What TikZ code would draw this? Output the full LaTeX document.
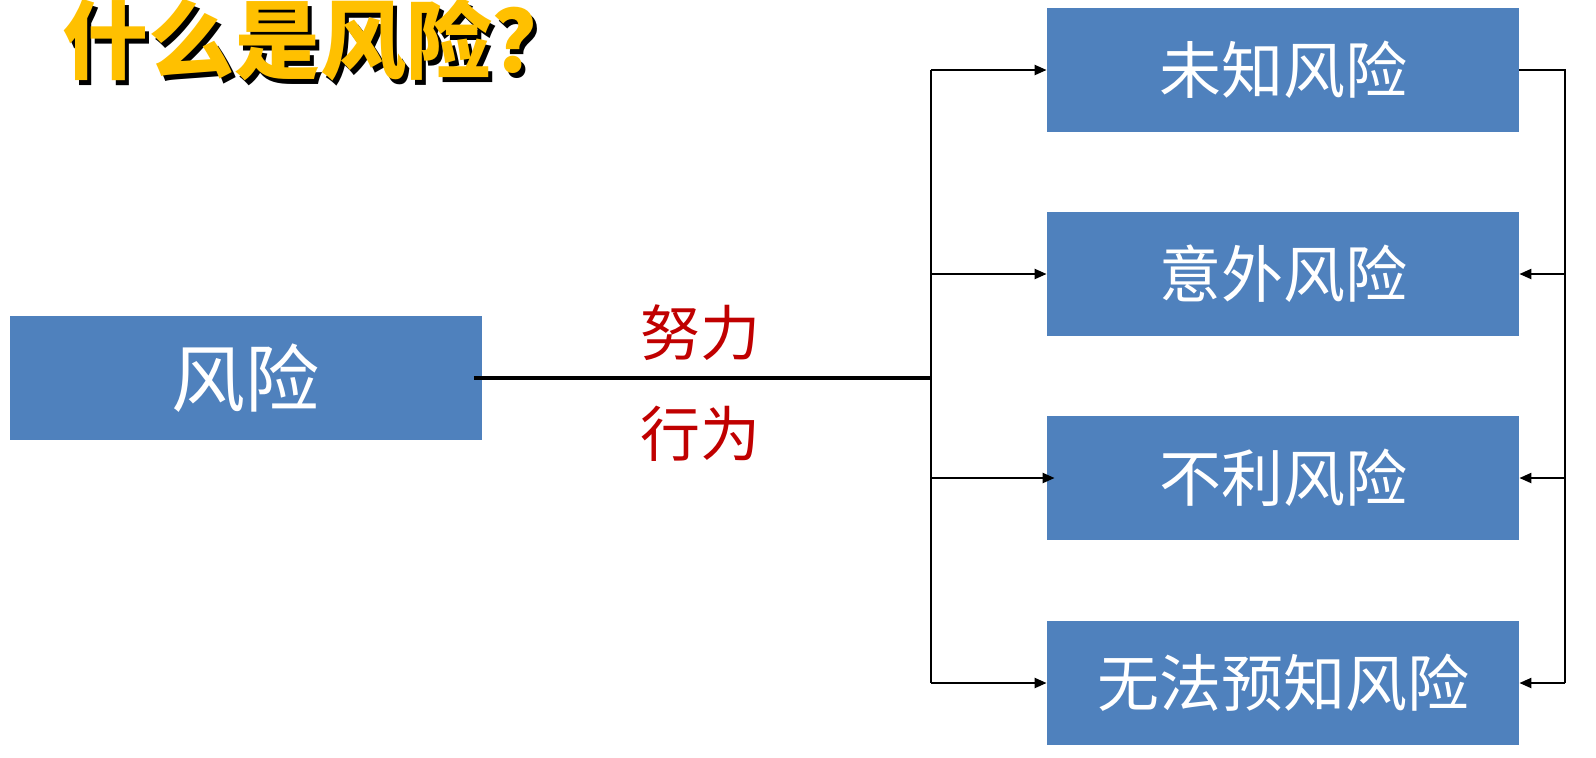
\documentclass[tikz,border=0pt]{standalone}
\usepackage{fontspec}
\setmainfont{Noto Sans CJK SC}
\usetikzlibrary{arrows.meta}
\definecolor{boxblue}{HTML}{4F81BD}
\definecolor{titleyellow}{HTML}{FFC000}
\definecolor{labelred}{HTML}{C00000}
\newcommand{\shadowtext}[1]{\makebox[0pt][l]{\hspace{2.2pt}\raisebox{-2.2pt}{\color{black}#1}}\textcolor{titleyellow}{#1}}
\begin{document}
\begin{tikzpicture}[x=0.5pt,y=-0.5pt,
  riskbox/.style={fill=boxblue,draw=none,text=white,minimum width=236pt,minimum height=62pt,inner sep=0pt,font=\fontsize{31}{36}\selectfont},
  conn/.style={draw=black,line width=1.1pt},
  arr/.style={conn,-{Triangle[length=6pt,width=5pt]}},
  lbl/.style={text=labelred,font=\fontsize{30}{36}\selectfont,inner sep=0pt}]
\useasboundingbox (0,0) rectangle (1596,757);
% title
\node[anchor=west,font=\fontsize{43}{48}\selectfont\bfseries,inner sep=0pt] (title) at (62,42) {\shadowtext{什么是风险？}};
% boxes
\node[riskbox,font=\fontsize{37}{42}\selectfont] (r) at (245.5,378) {风险};
\node[riskbox] (b1) at (1283,70) {未知风险};
\node[riskbox] (b2) at (1283,274) {意外风险};
\node[riskbox] (b3) at (1283,478) {不利风险};
\node[riskbox] (b4) at (1283,683) {无法预知风险};
% labels
\node[lbl] (l1) at (700,333) {努力};
\node[lbl] (l2) at (700,434) {行为};
% connectors
\coordinate (j) at (931,378);
\coordinate (t) at (931,70);
\coordinate (bt) at (931,683);
\draw[conn,line width=1.6pt] (r.east) ++(-4pt,0) -- (j);
\draw[conn] (t) -- (bt);
\draw[arr] (t) -- (b1.west);
\draw[arr] (931,274) -- (b2.west);
\draw[arr] (931,478) -- ([xshift=4pt]b3.west);
\draw[arr] (bt) -- (b4.west);
\coordinate (rt) at (1565,70);
\coordinate (rb) at (1565,683);
\draw[conn] (b1.east) -- (rt) -- (rb);
\draw[arr] (1565,274) -- (b2.east);
\draw[arr] (1565,478) -- (b3.east);
\draw[arr] (rb) -- (b4.east);
\end{tikzpicture}
\end{document}
